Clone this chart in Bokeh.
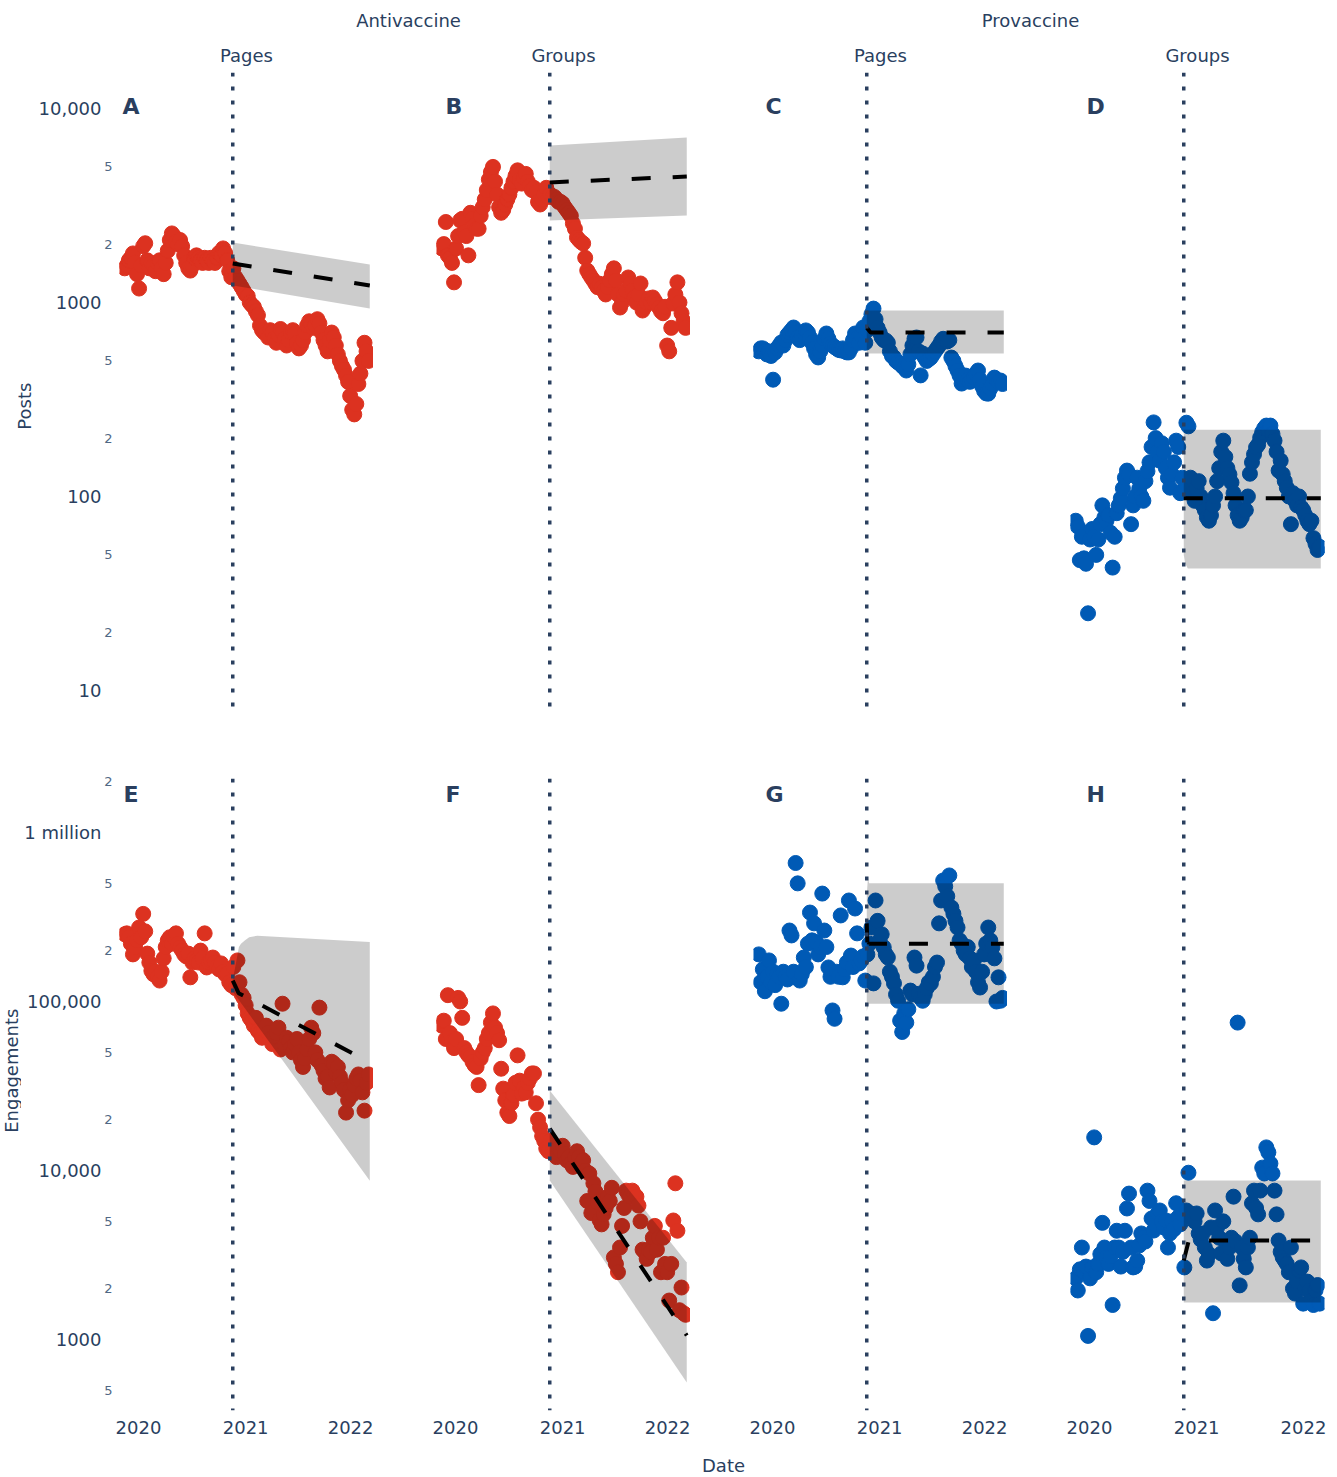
import math
import pandas as pd
from bokeh.plotting import figure
from bokeh.models import (Range1d, LogAxis, LinearAxis, FixedTicker,
                          CustomJSTickFormatter, Span, Label)
from bokeh.layouts import row, column
from bokeh.embed import file_html
from bokeh.resources import INLINE
from bokeh.core.properties import value

# ---------------------------------------------------------------- data
week_start = "2019-11-15"
n_weeks = 120
intervention_date = "2020-11-18"
year_ticks = ["2020-01-01", "2021-01-01", "2022-01-01"]
posts_major_ticks = [10, 100, 1000, 10000]
posts_minor_ticks = [20, 50, 200, 500, 2000, 5000]
eng_major_ticks = [1000, 10000, 100000, 1000000]
eng_minor_ticks = [500, 2000, 5000, 20000, 50000, 200000, 500000, 2000000]

group_titles = ["Antivaccine", "Provaccine"]
type_titles = ["Pages", "Groups", "Pages", "Groups"]
row_titles = ["Posts", "Engagements"]
x_title = "Date"
letters_top = ["A", "B", "C", "D"]
letters_bottom = ["E", "F", "G", "H"]

anti_pages_posts = [
    1500, 1550, 1650, 1700, 1790, 1600, 1400, 1180, 1550, 1950,
    2020, 1650, 1500, 1600, 1550, 1450, 1600, 1650, 1500, 1400,
    1600, 1850, 2100, 2270, 2200, 2050, 2000, 2100, 1950, 1750,
    1600, 1500, 1460, 1550, 1700, 1750, 1700, 1650, 1600, 1700,
    1650, 1600, 1700, 1650, 1600, 1700, 1800, 1750, 1900, 1800,
    1650, 1450, 1350, 1500, 1350, 1300, 1250, 1200, 1150, 1100,
    1080, 1000, 970, 950, 900, 860, 760, 720, 700, 690,
    660, 720, 700, 650, 620, 680, 730, 700, 650, 600,
    640, 700, 720, 690, 620, 580, 600, 640, 700, 760,
    800, 780, 740, 760, 820, 780, 700, 640, 600, 560,
    640, 700, 660, 600, 540, 500, 470, 450, 420, 390,
    330, 280, 265, 300, 380, 430, 500, 620, 560, 500]

anti_groups_posts = [
    1900, 2000, 2600, 1750, 1700, 1600, 1270, 1900, 2200, 2650,
    2700, 2300, 2200, 1750, 2900, 2700, 2500, 2400, 2400, 2800,
    3100, 3400, 3800, 4300, 4700, 5000, 4200, 3600, 3100, 2900,
    3000, 3200, 3400, 3600, 3900, 4200, 4500, 4800, 4300, 4100,
    4400, 4600, 4200, 4000, 3800, 3900, 3700, 3300, 3200, 3400,
    3600, 3900, 3500, 3600, 3500, 3500, 3400, 3300, 3300, 3237,
    3100, 3000, 2900, 2800, 2554, 2400, 2162, 2100, 2050, 2015,
    1700, 1462, 1400, 1346, 1300, 1250, 1200, 1250, 1194, 1150,
    1100, 1200, 1300, 1400, 1500, 1300, 1100, 942, 1000, 1100,
    1150, 1346, 1250, 1150, 1061, 1000, 1100, 1253, 909, 950,
    1000, 1050, 1000, 1061, 1020, 980, 942, 900, 880, 950,
    600, 560, 740, 988, 1100, 1270, 1000, 880, 800, 740]

pro_pages_posts = [
    560, 580, 580, 560, 540, 560, 530, 400, 553, 580,
    600, 622, 600, 640, 680, 700, 720, 743, 700, 660,
    640, 680, 700, 718, 700, 660, 620, 580, 540, 521,
    560, 600, 650, 692, 650, 615, 600, 590, 580, 570,
    566, 580, 560, 553, 553, 580, 640, 692, 650, 620,
    680, 743, 620, 720, 800, 870, 930, 820, 740, 700,
    660, 640, 637, 620, 560, 530, 521, 500, 490, 485,
    470, 460, 446, 480, 540, 600, 650, 660, 560, 421,
    546, 520, 500, 510, 520, 540, 560, 580, 600, 630,
    650, 640, 630, 640, 520, 500, 470, 446, 420, 382,
    400, 420, 400, 390, 400, 410, 430, 446, 400, 370,
    350, 340, 339, 360, 380, 410, 400, 390, 396, 380]

pro_groups_posts = [
    75, 70, 47, 62, 48, 45, 25, 60, 68, 62,
    50, 60, 72, 90, 78, 75, 80, 65, 43, 62,
    82, 90, 98, 110, 125, 136, 130, 72, 90, 100,
    125, 110, 100, 95, 120, 135, 150, 180, 241, 200,
    170, 153, 188, 170, 140, 125, 111, 130, 150, 194,
    180, 104, 125, 110, 240, 230, 125, 104, 95, 110,
    120, 100, 90, 85, 78, 75, 80, 90, 100, 120,
    140, 170, 194, 160, 140, 130, 118, 104, 90, 80,
    75, 78, 85, 85, 100, 131, 150, 165, 179, 185,
    201, 215, 225, 232, 220, 232, 210, 194, 170, 136,
    153, 130, 120, 111, 100, 72, 104, 95, 90, 100,
    88, 85, 80, 75, 72, 75, 61, 57, 53, 55]

anti_pages_eng = [
    2.5e5, 2.53e5, 2.4e5, 2.2e5, 1.9e5, 2.1e5, 2.3e5, 2.74e5, 2.4e5, 3.3e5,
    2.6e5, 1.92e5, 1.7e5, 1.52e5, 1.45e5, 1.5e5, 1.39e5, 1.33e5, 1.5e5, 1.8e5,
    2.1e5, 2.3e5, 2.4e5, 2.2e5, 2.4e5, 2.53e5, 2.2e5, 2.09e5, 2.0e5, 1.9e5,
    1.85e5, 1.92e5, 1.39e5, 1.7e5, 1.8e5, 1.75e5, 1.7e5, 2.0e5, 1.8e5, 2.53e5,
    1.59e5, 1.7e5, 1.75e5, 1.82e5, 1.7e5, 1.6e5, 1.55e5, 1.68e5, 1.5e5, 1.45e5,
    1.46e5, 1.3e5, 1.25e5, 1.6e5, 1.2e5, 1.75e5, 1.3e5, 1.1e5, 1.05e5, 9.5e4,
    8.5e4, 8.0e4, 7.7e4, 7.2e4, 8.0e4, 6.7e4, 6.5e4, 6.1e4, 6.8e4, 7.2e4,
    6.5e4, 6.0e4, 5.6e4, 6.2e4, 6.5e4, 7.0e4, 5.2e4, 9.7e4, 5.5e4, 6.1e4,
    5.8e4, 5.3e4, 5.0e4, 5.6e4, 6.0e4, 5.0e4, 4.5e4, 4.1e4, 4.6e4, 5.2e4,
    6.0e4, 7.0e4, 6.5e4, 5.0e4, 4.5e4, 9.2e4, 4.2e4, 3.9e4, 3.5e4, 3.6e4,
    3.1e4, 4.4e4, 4.3e4, 3.8e4, 4.1e4, 3.6e4, 3.3e4, 3.0e4, 2.2e4, 2.6e4,
    3.0e4, 2.8e4, 3.2e4, 3.5e4, 3.7e4, 3.4e4, 2.9e4, 2.26e4, 3.3e4, 3.7e4]

anti_groups_eng = [
    7.2e4, 7.7e4, 6.0e4, 1.09e5, 6.5e4, 5.8e4, 5.3e4, 6.0e4, 1.05e5, 1.0e5,
    8.0e4, 5.3e4, 5.0e4, 4.8e4, 4.7e4, 4.4e4, 4.2e4, 4.1e4, 3.2e4, 4.6e4,
    5.0e4, 5.3e4, 6.0e4, 6.5e4, 7.5e4, 8.5e4, 7.0e4, 6.5e4, 5.9e4, 4.0e4,
    3.05e4, 2.6e4, 2.2e4, 2.1e4, 2.5e4, 2.8e4, 3.3e4, 4.8e4, 3.4e4, 2.85e4,
    3.1e4, 2.9e4, 3.3e4, 3.5e4, 3.75e4, 3.75e4, 2.5e4, 2.0e4, 1.8e4, 1.6e4,
    1.5e4, 1.35e4, 1.3e4, 1.5e4, 1.3e4, 1.31e4, 1.2e4, 1.35e4, 1.3e4, 1.4e4,
    1.25e4, 1.15e4, 1.2e4, 1.1e4, 1.05e4, 1.2e4, 1.3e4, 1.2e4, 1.1e4, 1.15e4,
    1.0e4, 6.6e3, 9.6e3, 5.6e3, 8.4e3, 7.5e3, 6.5e3, 5.1e3, 4.8e3, 5.5e3,
    6.0e3, 7.0e3, 6.6e3, 7.9e3, 3.06e3, 2.8e3, 2.5e3, 3.5e3, 4.7e3, 6.0e3,
    7.6e3, 7.2e3, 7.0e3, 7.6e3, 7.2e3, 7.0e3, 6.2e3, 5.0e3, 3.4e3, 3.3e3,
    3.0e3, 3.4e3, 3.3e3, 4.0e3, 4.7e3, 3.4e3, 4.0e3, 2.5e3, 4.0e3, 2.8e3,
    2.5e3, 1.7e3, 2.8e3, 5.06e3, 8.4e3, 4.4e3, 1.49e3, 2.03e3, 1.43e3, 1.4e3]

pro_pages_eng = [
    1.9e5, 1.3e5, 1.55e5, 1.15e5, 1.4e5, 1.75e5, 1.3e5, 1.5e5, 1.25e5, 1.45e5,
    1.4e5, 9.7e4, 1.5e5, 1.4e5, 1.35e5, 2.63e5, 2.46e5, 1.5e5, 6.6e5, 5.0e5,
    1.33e5, 1.45e5, 1.82e5, 1.6e5, 2.2e5, 3.36e5, 2.3e5, 2.9e5, 2.25e5, 1.9e5,
    2.1e5, 4.35e5, 2.63e5, 2.1e5, 1.59e5, 1.4e5, 8.85e4, 7.9e4, 1.5e5, 1.4e5,
    3.23e5, 1.39e5, 1.55e5, 1.7e5, 3.96e5, 1.87e5, 1.6e5, 3.55e5, 2.53e5, 1.68e5,
    1.75e5, 1.85e5, 1.33e5, 1.9e5, 2.2e5, 2.74e5, 1.28e5, 3.96e5, 3.0e5, 2.3e5,
    2.5e5, 2.09e5, 1.9e5, 1.82e5, 1.5e5, 1.4e5, 1.28e5, 1.1e5, 1.01e5, 7.7e4,
    6.6e4, 8.5e4, 7.5e4, 9.0e4, 1.16e5, 1.1e5, 1.82e5, 1.63e5, 1.11e5, 1.05e5,
    1.01e5, 1.1e5, 1.2e5, 1.3e5, 1.28e5, 1.4e5, 1.6e5, 1.7e5, 2.9e5, 3.96e5,
    5.2e5, 4.8e5, 4.2e5, 5.57e5, 3.6e5, 3.3e5, 3.0e5, 2.74e5, 2.3e5, 2.2e5,
    2.0e5, 1.9e5, 2.1e5, 1.8e5, 1.6e5, 1.75e5, 1.5e5, 1.3e5, 1.21e5, 1.5e5,
    1.9e5, 2.2e5, 2.74e5, 2.3e5, 2.09e5, 1.8e5, 1.0e5, 1.39e5, 1.01e5, 1.05e5]

pro_groups_eng = [
    2.3e3, 1.95e3, 2.6e3, 3.5e3, 2.5e3, 2.7e3, 1.05e3, 2.3e3, 2.67e3, 1.57e4,
    2.5e3, 2.8e3, 3.2e3, 4.9e3, 3.5e3, 3.06e3, 2.8e3, 3.1e3, 1.6e3, 3.5e3,
    4.4e3, 3.5e3, 2.7e3, 3.3e3, 4.4e3, 5.96e3, 7.3e3, 3.5e3, 2.67e3, 2.7e3,
    2.93e3, 3.6e3, 4.24e3, 4.0e3, 3.8e3, 7.6e3, 6.6e3, 5.2e3, 4.41e3, 4.8e3,
    5.57e3, 5.8e3, 5.0e3, 4.6e3, 5.06e3, 3.5e3, 4.24e3, 5.0e3, 4.5e3, 6.4e3,
    5.28e3, 4.8e3, 5.5e3, 2.67e3, 5.8e3, 9.7e3, 5.57e3, 5.3e3, 5.0e3, 5.57e3,
    4.24e3, 3.9e3, 4.24e3, 3.5e3, 2.93e3, 3.2e3, 4.6e3, 1.43e3, 5.8e3, 4.6e3,
    4.0e3, 3.23e3, 5.0e3, 3.8e3, 3.0e3, 3.5e3, 4.0e3, 7.0e3, 3.8e3, 7.5e4,
    2.09e3, 3.5e3, 3.0e3, 2.67e3, 3.5e3, 4.0e3, 6.4e3, 7.6e3, 6.0e3, 5.5e3,
    7.6e3, 1.04e4, 9.6e3, 1.37e4, 1.28e4, 1.1e4, 9.6e3, 7.6e3, 5.5e3, 3.85e3,
    3.3e3, 3.06e3, 2.93e3, 2.8e3, 2.5e3, 3.5e3, 2.0e3, 1.87e3, 2.2e3, 2.56e3,
    2.67e3, 1.63e3, 2.0e3, 2.2e3, 1.95e3, 1.7e3, 1.6e3, 1.95e3, 2.1e3, 1.63e3]

# model counterfactual (dashed) and its interval (grey band)
band_a_t = ["2020-11-18", "2022-03-01"]
band_a_lo = [1224, 931]
band_a_hi = [2038, 1570]
trend_a_t = ["2020-11-18", "2022-03-01"]
trend_a_v = [1590, 1224]

band_b_t = ["2020-11-18", "2022-03-01"]
band_b_lo = [2647, 2806]
band_b_hi = [6446, 7093]
trend_b_t = ["2020-11-18", "2022-03-01"]
trend_b_v = [4158, 4458]

band_c_t = ["2020-11-18", "2022-03-01"]
band_c_lo = [546, 546]
band_c_hi = [909, 909]
trend_c_t = ["2020-11-18", "2020-12-01", "2022-03-01"]
trend_c_v = [740, 700, 700]

band_d_t = ["2020-11-18", "2020-11-23", "2020-12-02", "2022-03-01"]
band_d_lo = [50, 45, 42.6, 42.6]
band_d_hi = [221, 221, 221, 221]
trend_d_t = ["2020-11-18", "2022-03-01"]
trend_d_v = [98, 98]

band_e_t = ["2020-11-18", "2020-11-25", "2020-12-02", "2020-12-09", "2020-12-16",
            "2020-12-30", "2021-01-13", "2021-02-10", "2022-03-01"]
band_e_lo = [1.15e5, 1.1e5, 1.06e5, 1.02e5, 9.8e4, 9.1e4, 8.4e4, 7.2e4, 8.7e3]
band_e_hi = [1.35e5, 1.55e5, 1.8e5, 2.1e5, 2.2e5, 2.3e5, 2.4e5, 2.45e5, 2.25e5]
trend_e_t = ["2020-11-18", "2020-12-08", "2022-03-01"]
trend_e_v = [1.33e5, 1.12e5, 4.36e4]

band_f_t = ["2020-11-18", "2022-03-01"]
band_f_lo = [8730, 557]
band_f_hi = [2.97e4, 2855]
trend_f_t = ["2020-11-18", "2022-03-01"]
trend_f_v = [1.77e4, 1056]

band_g_t = ["2020-11-18", "2020-11-22", "2020-11-26", "2022-03-01"]
band_g_lo = [8.8e4, 9.3e4, 9.7e4, 9.7e4]
band_g_hi = [4.3e5, 5.4e5, 5.0e5, 5.0e5]
trend_g_t = ["2020-11-18", "2020-11-21", "2020-11-25", "2022-03-01"]
trend_g_v = [2.9e5, 1.9e5, 2.2e5, 2.2e5]

band_h_t = ["2020-11-18", "2022-03-01"]
band_h_lo = [1656, 1656]
band_h_hi = [8730, 8730]
trend_h_t = ["2020-11-18", "2020-12-05", "2022-03-01"]
trend_h_v = [2.93e3, 3.85e3, 3.85e3]

# ---------------------------------------------------------------- style / layout
FONT = "DejaVu Sans"
INK = "#2a3f5f"
MINOR_INK = "#506784"
RED = "#dc3220"
BLUE = "#005ab5"

FW = 254            # frame width of every panel
GAP = 63            # gap between panel frames
LEFT = 119          # page x of the first frame
S1, S2 = 35, 21     # width of the row-title strips
FH1, B1 = 638, 58   # top row frame height / bottom border
T2, FH2, B2 = 10, 632, 35   # bottom row top border / frame height / bottom border
RIGHT = 12
TOTAL_W = LEFT + 4 * FW + 3 * GAP + RIGHT
HEAD_H = 72
FOOT_H = 31

px_per_day = 107 / 365.5
x_start = pd.Timestamp("2020-01-01") - pd.Timedelta(days=19 / px_per_day)
x_end = x_start + pd.Timedelta(days=FW / px_per_day)
xr = Range1d(x_start.value / 1e6, x_end.value / 1e6)
yr_posts = Range1d(7.886, 15330)
yr_eng = Range1d(380, 2.087e6)

dates = pd.date_range(week_start, periods=n_weeks, freq="7D")
int_ms = pd.Timestamp(intervention_date).value / 1e6
year_ms = [pd.Timestamp(t).value / 1e6 for t in year_ticks]

MAJOR_JS = r"""
if (tick >= 1e6) { return Math.round(tick / 1e6) + " million"; }
var s = Math.round(tick).toString();
if (s.length > 4) { s = s.replace(/\B(?=(\d{3})+(?!\d))/g, ","); }
return s;
"""
MINOR_JS = r"""
var e = Math.floor(Math.log10(tick) + 1e-9);
return Math.round(tick / Math.pow(10, e)).toString();
"""


def quiet_axis(ax):
    ax.major_tick_out = 0
    ax.major_tick_in = 0
    ax.major_tick_line_color = None
    ax.minor_tick_line_color = None
    ax.axis_line_color = None
    ax.major_label_text_font = FONT
    return ax


def make_panel(vals, color, band_t, band_lo, band_hi, trend_t, trend_v,
               letter, letter_dx, top, left_border, right_border, first):
    fh = FH1 if top else FH2
    p = figure(x_axis_type="datetime", y_axis_type="log",
               x_range=xr, y_range=(yr_posts if top else yr_eng),
               frame_width=FW, frame_height=fh,
               x_axis_location=None, y_axis_location=None,
               toolbar_location=None, output_backend="svg",
               min_border_left=left_border, min_border_right=right_border,
               min_border_top=(0 if top else T2), min_border_bottom=(B1 if top else B2),
               outline_line_color=None, background_fill_color="white",
               border_fill_color="white")
    p.grid.visible = False
    p.scatter(dates, vals, size=15, fill_color=color, line_color=color)
    p.varea(x=pd.to_datetime(band_t), y1=band_lo, y2=band_hi,
            fill_color="black", fill_alpha=0.2)
    p.line(pd.to_datetime(trend_t), trend_v, line_color="black",
           line_width=4, line_dash="19 22")
    p.add_layout(Span(location=int_ms, dimension="height", line_color=INK,
                      line_width=3.5, line_dash="4 10"))
    p.add_layout(Label(x=letter_dx, y=fh - (21 if top else 3),
                       x_units="screen", y_units="screen", text=letter,
                       text_font=FONT, text_font_style="bold",
                       text_font_size="22px", text_color=INK,
                       text_baseline="top", text_align="left"))
    if first:
        minor = quiet_axis(LogAxis(
            ticker=FixedTicker(ticks=posts_minor_ticks if top else eng_minor_ticks),
            formatter=CustomJSTickFormatter(code=MINOR_JS)))
        minor.major_label_text_font_size = "13px"
        minor.major_label_text_color = MINOR_INK
        minor.major_label_standoff = 7
        major = quiet_axis(LogAxis(
            ticker=FixedTicker(ticks=posts_major_ticks if top else eng_major_ticks),
            formatter=CustomJSTickFormatter(code=MAJOR_JS)))
        major.major_label_text_font_size = "18px"
        major.major_label_text_color = INK
        major.major_label_standoff = 0
        p.add_layout(minor, "left")
        p.add_layout(major, "left")
    if not top:
        xax = quiet_axis(LinearAxis(
            ticker=FixedTicker(ticks=year_ms),
            formatter=CustomJSTickFormatter(
                code="return String(new Date(tick).getUTCFullYear());")))
        xax.major_label_text_font_size = "18px"
        xax.major_label_text_color = INK
        xax.major_label_standoff = 10
        p.add_layout(xax, "below")
    return p


def blank(w, h):
    f = figure(width=w, height=h, x_range=Range1d(0, w), y_range=Range1d(0, h),
               x_axis_location=None, y_axis_location=None,
               toolbar_location=None, output_backend="svg", min_border=0,
               outline_line_color=None, background_fill_color="white",
               border_fill_color="white")
    f.grid.visible = False
    return f


text_kw = dict(text_font=value(FONT), text_font_size="18px", text_color=INK,
               text_align="center", text_baseline="middle")

# header: group titles and Pages / Groups
header = blank(TOTAL_W, HEAD_H)
centers = [LEFT + FW / 2 + i * (FW + GAP) for i in range(4)]
header.text(x=[408, 1030], y=[HEAD_H - 20] * 2, text=group_titles, **text_kw)
header.text(x=centers, y=[HEAD_H - 55] * 4, text=type_titles, **text_kw)

# row title strips (left of the first column)
row1_h = FH1 + B1
row2_h = T2 + FH2 + B2
strip1 = blank(S1, row1_h)
strip1.text(x=[S1 - 11], y=[HEAD_H + row1_h - 436], text=[row_titles[0]],
            angle=math.pi / 2, **text_kw)
strip2 = blank(S2, row2_h)
strip2.text(x=[S2 - 10.5], y=[HEAD_H + row1_h + row2_h - 1081], text=[row_titles[1]],
            angle=math.pi / 2, **text_kw)

footer = blank(TOTAL_W, FOOT_H)
footer.text(x=[723], y=[11], text=[x_title], **text_kw)

top_series = [anti_pages_posts, anti_groups_posts, pro_pages_posts, pro_groups_posts]
bot_series = [anti_pages_eng, anti_groups_eng, pro_pages_eng, pro_groups_eng]
colors = [RED, RED, BLUE, BLUE]
top_bands = [(band_a_t, band_a_lo, band_a_hi, trend_a_t, trend_a_v),
             (band_b_t, band_b_lo, band_b_hi, trend_b_t, trend_b_v),
             (band_c_t, band_c_lo, band_c_hi, trend_c_t, trend_c_v),
             (band_d_t, band_d_lo, band_d_hi, trend_d_t, trend_d_v)]
bot_bands = [(band_e_t, band_e_lo, band_e_hi, trend_e_t, trend_e_v),
             (band_f_t, band_f_lo, band_f_hi, trend_f_t, trend_f_v),
             (band_g_t, band_g_lo, band_g_hi, trend_g_t, trend_g_v),
             (band_h_t, band_h_lo, band_h_hi, trend_h_t, trend_h_v)]
letter_dx = [3, 9, 12, 16]

top_panels, bot_panels = [], []
for i in range(4):
    rb = RIGHT if i == 3 else 0
    top_panels.append(make_panel(top_series[i], colors[i], *top_bands[i],
                                 letters_top[i], letter_dx[i], True,
                                 (LEFT - S1) if i == 0 else GAP, rb, i == 0))
    bot_panels.append(make_panel(bot_series[i], colors[i], *bot_bands[i],
                                 letters_bottom[i], letter_dx[i] + (1 if i == 0 else 0),
                                 False, (LEFT - S2) if i == 0 else GAP, rb, i == 0))

layout = column(header, row(strip1, *top_panels), row(strip2, *bot_panels), footer)

open("out.html", "w").write(file_html(layout, INLINE))
